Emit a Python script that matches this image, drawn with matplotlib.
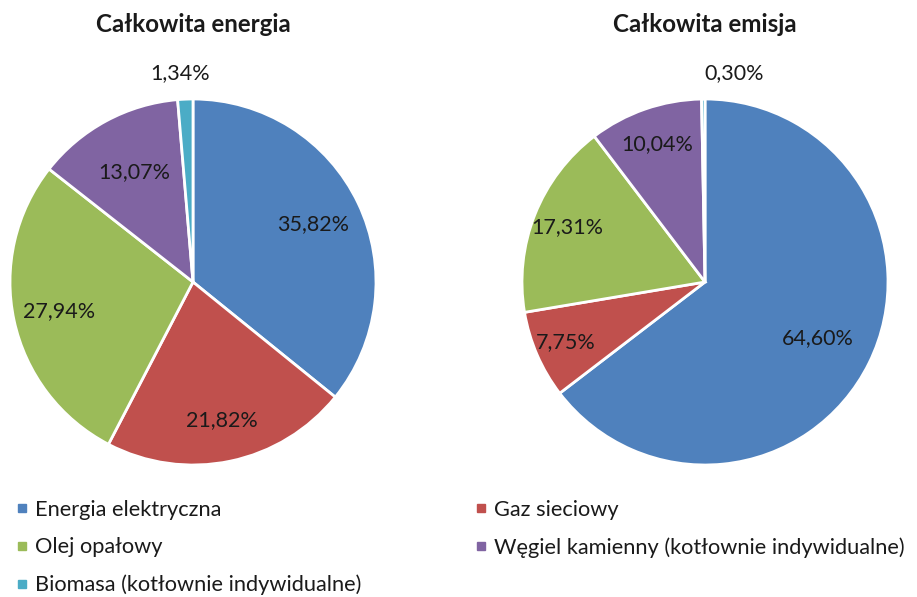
import matplotlib
matplotlib.use("Agg")
import matplotlib.pyplot as plt
from matplotlib.lines import Line2D
import numpy as np

plt.rcParams['font.family'] = ['Lato', 'DejaVu Sans']

categories = ["Energia elektryczna", "Gaz sieciowy", "Olej opałowy",
              "Węgiel kamienny (kotłownie indywidualne)", "Biomasa (kotłownie indywidualne)"]
energia = [35.82, 21.82, 27.94, 13.07, 1.34]
emisja = [64.60, 7.75, 17.31, 10.04, 0.30]
titles = ["Całkowita energia", "Całkowita emisja"]
colors = ["#4F81BD", "#C0504D", "#9BBB59", "#8064A2", "#4BACC6"]

W, H = 917, 597
fig = plt.figure(figsize=(W / 100, H / 100), dpi=100)

LABEL_FS = 15.5
LEG_FS = 15.7
TITLE_FS = 17.4

def fmt(v):
    return f"{v:.2f}".replace(".", ",") + "%"

def add_pie(cx, cy, r, values, title, label_r, offsets):
    ax = fig.add_axes([(cx - r) / W, (H - cy - r) / H, 2 * r / W, 2 * r / H])
    wedges, _ = ax.pie(values, colors=colors, startangle=90, counterclock=False,
                       radius=1.0, wedgeprops=dict(edgecolor="white", linewidth=2))
    ax.set_xlim(-1, 1)
    ax.set_ylim(-1, 1)
    ax.set_aspect("equal")
    ax.axis("off")
    for w, v, lr, off in zip(wedges, values, label_r, offsets):
        ang = np.deg2rad((w.theta1 + w.theta2) / 2)
        x = lr * np.cos(ang) + off
        y = lr * np.sin(ang)
        ax.text(x, y, fmt(v), ha="center", va="center", fontsize=LABEL_FS, color="#1a1a1a")
    fig.text(cx / W, 1 - 25 / H, title, ha="center", va="center",
             fontsize=TITLE_FS, fontweight="bold", color="#1a1a1a")
    return wedges

add_pie(193, 282, 183, energia, titles[0], [0.73, 0.77, 0.75, 0.68, 1.14], [0, 0, 0, 0, -0.02])
add_pie(705, 282, 183, emisja, titles[1], [0.69, 0.83, 0.81, 0.80, 1.14], [0, 0, 0, 0, 0.17])

def handle(c):
    return Line2D([], [], marker="s", linestyle="none", markersize=5.5,
                  markerfacecolor=c, markeredgecolor=c)

common = dict(frameon=False, fontsize=LEG_FS, handlelength=0.6, handletextpad=0.33,
              labelspacing=0.8, borderaxespad=0, borderpad=0, loc="upper left")
idx1 = [0, 2, 4]
idx2 = [1, 3]
leg1 = fig.legend([handle(colors[i]) for i in idx1], [categories[i] for i in idx1],
                  bbox_to_anchor=(15 / W, 1 - 500 / H), **common)
leg2 = fig.legend([handle(colors[i]) for i in idx2], [categories[i] for i in idx2],
                  bbox_to_anchor=(474 / W, 1 - 500 / H), **common)
for leg in (leg1, leg2):
    for t in leg.get_texts():
        t.set_color("#1a1a1a")

fig.savefig("out.png", dpi=100, facecolor="white")
